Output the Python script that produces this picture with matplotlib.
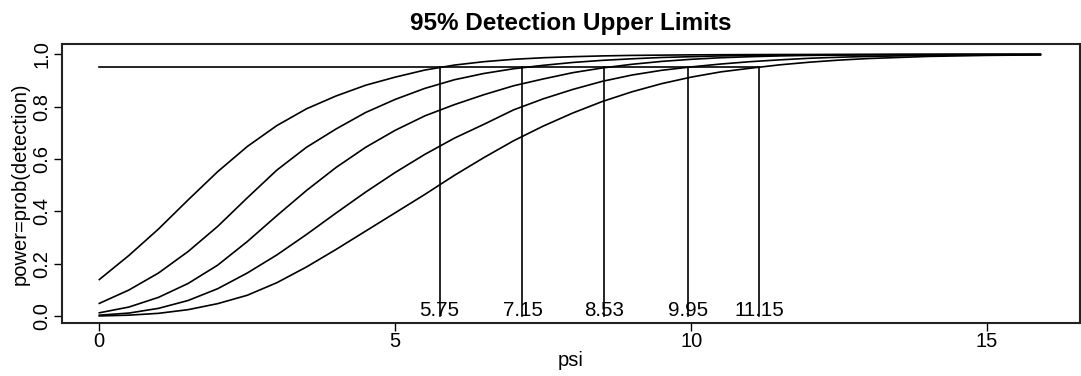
import matplotlib
matplotlib.use("Agg")
import matplotlib.pyplot as plt

plt.rcParams['font.family'] = ['Liberation Sans', 'DejaVu Sans']

# power curves, one per detection limit
psi = [0, 0.5, 1, 1.5, 2, 2.5, 3, 3.5, 4, 4.5, 5, 5.5, 6, 6.5, 7, 7.5, 8, 8.5,
       9, 9.5, 10, 10.5, 11, 11.5, 12, 12.5, 13, 13.5, 14, 14.5, 15, 15.5, 15.9]

power1 = [0.140, 0.232, 0.333, 0.444, 0.552, 0.648, 0.728, 0.792, 0.841, 0.882,
          0.913, 0.940, 0.959, 0.972, 0.981, 0.987, 0.991, 0.994, 0.996, 0.997,
          0.998, 0.9985, 0.999, 0.9993, 0.9995, 0.9996, 0.9997, 0.9998, 0.9998,
          0.9999, 0.9999, 0.9999, 0.9999]
power2 = [0.049, 0.100, 0.165, 0.247, 0.343, 0.452, 0.558, 0.645, 0.715, 0.778,
          0.828, 0.870, 0.903, 0.927, 0.945, 0.958, 0.969, 0.977, 0.983, 0.988,
          0.991, 0.994, 0.996, 0.997, 0.998, 0.9985, 0.999, 0.9993, 0.9995,
          0.9996, 0.9997, 0.9998, 0.9998]
power3 = [0.013, 0.035, 0.072, 0.125, 0.195, 0.285, 0.384, 0.480, 0.568, 0.645,
          0.710, 0.765, 0.808, 0.846, 0.880, 0.906, 0.930, 0.948, 0.962, 0.973,
          0.981, 0.987, 0.991, 0.994, 0.996, 0.997, 0.998, 0.9987, 0.9991,
          0.9994, 0.9996, 0.9997, 0.9998]
power4 = [0.004, 0.012, 0.030, 0.060, 0.105, 0.165, 0.234, 0.312, 0.394, 0.474,
          0.549, 0.618, 0.680, 0.733, 0.788, 0.830, 0.866, 0.897, 0.921, 0.939,
          0.952, 0.963, 0.972, 0.979, 0.985, 0.989, 0.992, 0.994, 0.996, 0.997,
          0.998, 0.9985, 0.999]
power5 = [0.001, 0.004, 0.011, 0.025, 0.048, 0.080, 0.128, 0.188, 0.255, 0.325,
          0.395, 0.465, 0.538, 0.606, 0.670, 0.726, 0.776, 0.820, 0.857, 0.888,
          0.913, 0.933, 0.947, 0.960, 0.970, 0.978, 0.984, 0.988, 0.992, 0.994,
          0.996, 0.997, 0.998]

limits = [5.75, 7.15, 8.53, 9.95, 11.15]
limit_labels = ["5.75", "7.15", "8.53", "9.95", "11.15"]
level = 0.95

fig = plt.figure(figsize=(10.81, 3.76), dpi=100)
ax = fig.add_axes([0.0571, 0.1402, 0.9420, 0.7428])

for p in [power1, power2, power3, power4, power5]:
    ax.plot(psi, p, color='black', lw=1.2, solid_joinstyle='round')

ax.plot([0, max(limits)], [level, level], color='black', lw=1.2)
for x, lab in zip(limits, limit_labels):
    ax.plot([x, x], [0, level], color='black', lw=1.2)
    ax.text(x, 0, lab, ha='center', va='baseline', fontsize=14.8)

ax.set_xlim(-0.635, 16.57)
ax.set_ylim(-0.027, 1.0395)
ax.set_xticks([0, 5, 10, 15])
ax.set_xticklabels(["0", "5", "10", "15"])
ax.set_yticks([0, 0.2, 0.4, 0.6, 0.8, 1.0])
ax.set_yticklabels(["0.0", "0.2", "0.4", "0.6", "0.8", "1.0"])
ax.tick_params(axis='both', direction='out', length=5.5, width=1.0,
               labelsize=14.5, color='black')
ax.tick_params(axis='x', pad=1)
ax.tick_params(axis='y', pad=2, labelrotation=90)
for lbl in ax.get_yticklabels():
    lbl.set_va('center')

for s in ax.spines.values():
    s.set_linewidth(1.5)
    s.set_color('#222222')

ax.set_xlabel("psi", fontsize=14.5, va='center')
ax.xaxis.set_label_coords(0.5, -0.135)
ax.set_ylabel("power=prob(detection)", fontsize=14.5, va='center')
ax.yaxis.set_label_coords(-0.041, 0.5)
ax.text(0.5, 1.0716, "95% Detection Upper Limits", transform=ax.transAxes,
        ha='center', va='center', fontsize=17.5, fontweight='bold')

fig.savefig("out.png", dpi=100)
